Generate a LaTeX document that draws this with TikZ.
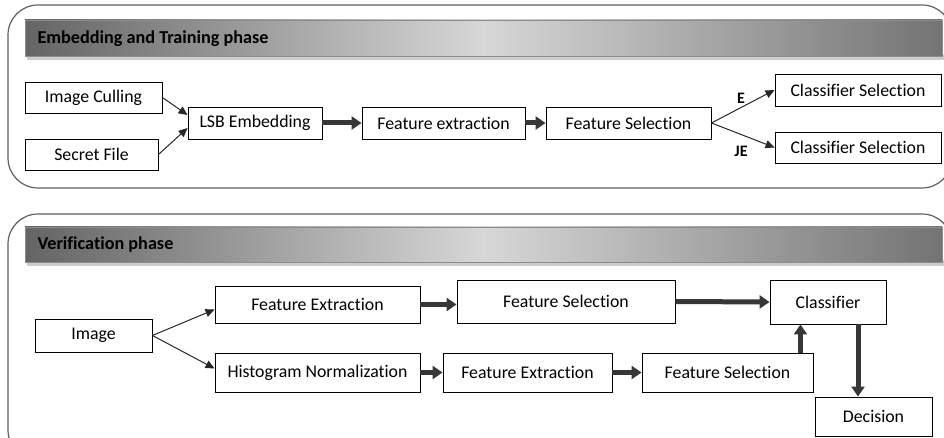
\documentclass[tikz,border=0pt]{standalone}
\usepackage{fontspec}
\setmainfont{Carlito}[Ligatures={NoCommon}]
\usetikzlibrary{arrows.meta, positioning, calc}
\definecolor{panelgray}{RGB}{95,95,95}
\definecolor{bardark}{RGB}{100,100,100}
\definecolor{barlight}{RGB}{215,215,215}
\definecolor{arrowgray}{RGB}{55,55,55}
\definecolor{linegray}{RGB}{40,40,40}

\begin{document}
\begin{tikzpicture}[x=1pt, y=-1pt,
    procbox/.style={rectangle, draw=black, line width=0.9pt, fill=white, inner sep=2pt, font=\fontsize{17.8}{20}\selectfont},
    panel/.style={draw=panelgray, line width=1.2pt, rounded corners=30pt},
    phasebar/.style={left color=bardark, right color=bardark!90!white, middle color=barlight, draw=black!45, line width=0.6pt},
    phasetext/.style={anchor=west, font=\fontsize{18.2}{20}\selectfont\bfseries},
    flowline/.style={-{Triangle[length=9pt, width=8pt]}, line width=1pt, color=linegray},
    bigarrow/.style={-{Triangle[length=10pt, width=13pt]}, line width=5pt, color=arrowgray}
]
\clip (0,0) rectangle (944,438);
% embedding and training phase
\draw[panel] (8,5) rectangle (952,188);
\fill[black!20] (27,54) rectangle (944,60);
\draw[phasebar] (25,20) rectangle (942,56);
\node[phasetext] (titleA) at (34,39) {Embedding and Training phase};
\node[procbox, minimum width=137pt, minimum height=31pt] (cull) at (93.5,97.5) {Image Culling};
\node[procbox, minimum width=133pt, minimum height=31pt] (secret) at (91.5,154.5) {Secret File};
\node[procbox, minimum width=134pt, minimum height=32pt] (lsb) at (255,123) {LSB Embedding};
\node[procbox, minimum width=163pt, minimum height=32pt] (featext) at (443.5,123) {Feature extraction};
\node[procbox, minimum width=165pt, minimum height=32pt] (featsel) at (628.5,123) {Feature Selection};
\node[procbox, minimum width=166pt, minimum height=32pt] (clsE) at (858,90) {Classifier Selection};
\node[procbox, minimum width=166pt, minimum height=31pt] (clsJE) at (858,147.5) {Classifier Selection};
\draw[flowline] (cull.east) -- ([yshift=8pt]lsb.west);
\draw[flowline] (secret.east) -- ([yshift=-5pt]lsb.west);
\draw[bigarrow] (lsb) -- (featext);
\draw[bigarrow] (featext) -- (featsel);
\draw[flowline] (featsel.east) -- (clsE.west);
\draw[flowline] (featsel.east) -- (clsJE.west);
\node[font=\fontsize{16}{18}\selectfont\bfseries] (lblE) at (741,98) {E};
\node[font=\fontsize{16}{18}\selectfont\bfseries] (lblJE) at (741,151) {JE};
% verification phase
\draw[panel] (8,214) rectangle (952,460);
\fill[black!20] (27,260) rectangle (944,266);
\draw[phasebar] (25,227) rectangle (942,262);
\node[phasetext] (titleB) at (34,245) {Verification phase};
\node[procbox, minimum width=117pt, minimum height=33pt] (image) at (93.5,335.5) {Image};
\node[procbox, minimum width=205pt, minimum height=37pt] (featextA) at (317.5,304.5) {Feature Extraction};
\node[procbox, minimum width=218pt, minimum height=43pt] (featselA) at (566,301.5) {Feature Selection};
\node[procbox, minimum width=116pt, minimum height=44pt] (classifier) at (828,302) {Classifier};
\node[procbox, minimum width=205pt, minimum height=39pt] (histnorm) at (317.5,372.5) {Histogram Normalization};
\node[procbox, minimum width=169pt, minimum height=39pt] (featextB) at (527.5,372.5) {Feature Extraction};
\node[procbox, minimum width=171pt, minimum height=39pt] (featselB) at (727.5,372.5) {Feature Selection};
\node[procbox, minimum width=117pt, minimum height=39pt] (decision) at (873.5,416.5) {Decision};
\draw[flowline] (image.east) -- ([yshift=-5pt]featextA.west);
\draw[flowline] (image.east) -- ([yshift=4pt]histnorm.west);
\draw[bigarrow] (featextA.east) -- (featextA.east -| featselA.west);
\draw[bigarrow] (featselA.east) -- (classifier.west);
\draw[bigarrow] (histnorm) -- (featextB);
\draw[bigarrow] (featextB) -- (featselB);
\draw[bigarrow] ([xshift=-13pt]featselB.north east) -- ([xshift=-13pt]featselB.north east |- classifier.south);
\draw[bigarrow] ([xshift=30pt]classifier.south) -- ([xshift=30pt]classifier.south |- decision.north);
\end{tikzpicture}
\end{document}
